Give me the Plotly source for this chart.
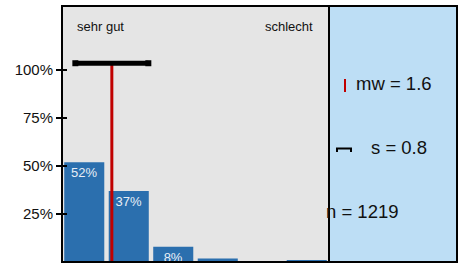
import plotly.graph_objects as go

# ---- data ----
categories = [1, 2, 3, 4, 5, 6]
shares = [0.52, 0.37, 0.08, 0.018, 0.0, 0.01]
bar_labels = ["52%", "37%", "8%", "", "", ""]
mean_value = 1.62
sd_value = 0.82
sd_bar_level = 1.035
n_value = 1219
tick_values = [0.25, 0.5, 0.75, 1.0]
tick_labels = ["25%", "50%", "75%", "100%"]
scale_left = "sehr gut"
scale_right = "schlecht"
mw_text = "mw = 1.6"
s_text = "s = 0.8"
n_text = "n = %d" % n_value

W, H = 464, 264
L, R, T, B = 62, 457, 6, 262
split = 329
pw, ph = R - L, B - T


def px(x):
    return (x - L) / pw


def py(y):
    return (B - y) / ph


FONT = "Liberation Sans, Arial, sans-serif"
BAR = "#2b6fae"
GRAY = "#e5e5e5"
BLUE = "#bddef5"
RED = "#c00000"

fig = go.Figure()
fig.add_trace(go.Bar(
    x=categories, y=shares, text=bar_labels,
    marker=dict(color=BAR, line=dict(width=0)),
    textposition="inside", insidetextanchor="end", constraintext="none",
    textfont=dict(family=FONT, size=13, color="#e8eef6"),
    cliponaxis=False, hoverinfo="skip",
))
# mean line
fig.add_trace(go.Scatter(
    x=[mean_value, mean_value], y=[0, sd_bar_level], mode="lines",
    line=dict(color=RED, width=3), hoverinfo="skip",
))
# sd bar
fig.add_trace(go.Scatter(
    x=[mean_value - sd_value, mean_value + sd_value], y=[sd_bar_level, sd_bar_level],
    mode="lines+markers", line=dict(color="black", width=5),
    marker=dict(symbol="square", size=6, color="black"), hoverinfo="skip",
    cliponaxis=False,
))
# invisible trace for the overlay axis (inner tick halves)
fig.add_trace(go.Scatter(x=[categories[0]], y=[0], yaxis="y2", mode="markers",
                         marker=dict(opacity=0), hoverinfo="skip"))

shapes = [
    dict(type="rect", xref="paper", yref="paper", x0=px(split), x1=1, y0=0, y1=1,
         fillcolor=BLUE, line=dict(width=0), layer="below"),
    dict(type="rect", xref="paper", yref="paper", x0=0, x1=1, y0=0, y1=1,
         line=dict(color="black", width=2), layer="above"),
    dict(type="line", xref="paper", yref="paper", x0=px(split), x1=px(split), y0=0, y1=1,
         line=dict(color="black", width=2), layer="above"),
    # legend: mean marker
    dict(type="line", xref="paper", yref="paper", x0=px(345), x1=px(345), y0=py(79), y1=py(92),
         line=dict(color=RED, width=2)),
    # legend: sd bracket
    dict(type="path", xref="paper", yref="paper",
         path="M %f %f L %f %f L %f %f L %f %f" % (px(337), py(152), px(337), py(148.5),
                                                   px(351), py(148.5), px(351), py(152)),
         line=dict(color="black", width=2)),
]

ann_font = dict(family=FONT, size=18.5, color="#111111")
annotations = [
    dict(text=scale_left, xref="paper", yref="paper", x=px(75), y=py(26), xanchor="left",
         yanchor="middle", showarrow=False, font=dict(family=FONT, size=13, color="#111111")),
    dict(text=scale_right, xref="paper", yref="paper", x=px(315), y=py(26), xanchor="right",
         yanchor="middle", showarrow=False, font=dict(family=FONT, size=13, color="#111111")),
    dict(text=mw_text, xref="paper", yref="paper", x=px(354), y=py(83), xanchor="left",
         yanchor="middle", showarrow=False, font=ann_font),
    dict(text=s_text, xref="paper", yref="paper", x=px(369), y=py(147), xanchor="left",
         yanchor="middle", showarrow=False, font=ann_font),
    dict(text=n_text, xref="paper", yref="paper", x=px(324), y=py(211), xanchor="left",
         yanchor="middle", showarrow=False, font=ann_font),
]

xdom = px(split)
fig.update_layout(
    width=W, height=H,
    margin=dict(l=L, r=W - R, t=T, b=H - B, pad=0),
    paper_bgcolor="white", plot_bgcolor=GRAY,
    showlegend=False, bargap=0.1,
    font=dict(family=FONT, color="#111111"),
    xaxis=dict(domain=[0, xdom], range=[0.5, 6.5], showticklabels=False, ticks="",
               showgrid=False, zeroline=False, showline=False, fixedrange=True),
    yaxis=dict(range=[0, 1.333], tickvals=tick_values, ticktext=tick_labels,
               ticks="outside", ticklen=5, tickwidth=2, tickcolor="black",
               tickfont=dict(family=FONT, size=15, color="#111111"),
               showgrid=False, zeroline=False, showline=False, ticklabelstandoff=0),
    yaxis2=dict(overlaying="y", matches="y", anchor="x", side="left",
                tickvals=tick_values, ticks="inside", ticklen=5, tickwidth=2,
                tickcolor="black", showticklabels=False, showgrid=False,
                zeroline=False, showline=False),
    shapes=shapes, annotations=annotations,
)

fig.write_html("out.html", config={"displayModeBar": False},
               post_script="document.body.style.margin='0';")
